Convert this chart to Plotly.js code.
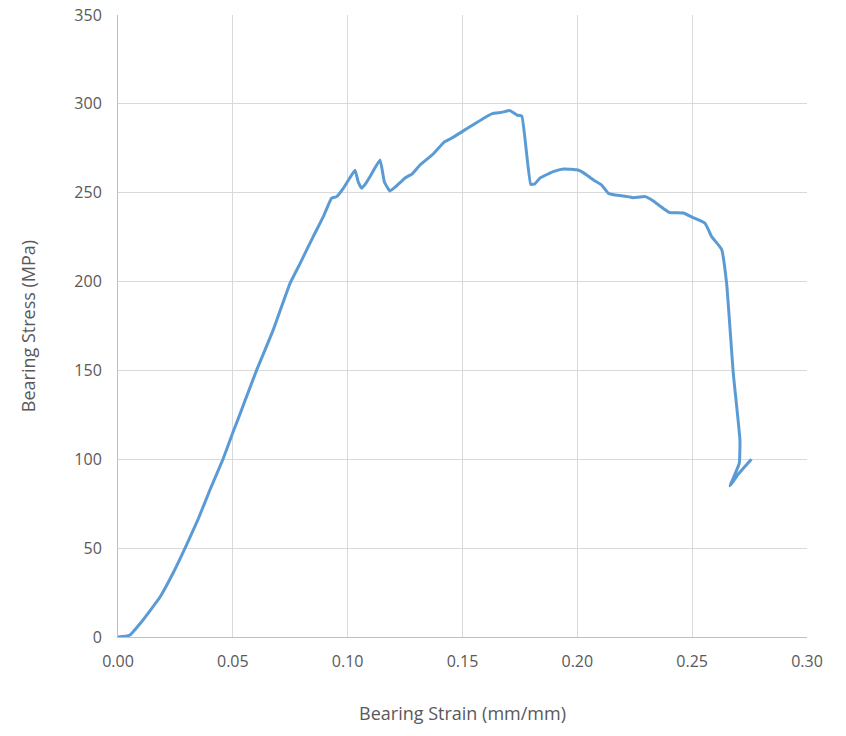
<!DOCTYPE html>
<html>
<head>
<meta charset="utf-8">
<script src="https://cdn.plot.ly/plotly-3.0.1.min.js"></script>
<style>html,body{margin:0;padding:0;background:#fff;}#chart{width:846px;height:736px;}</style>
</head>
<body>
<div id="chart"></div>
<script>
var strain = [0.000, 0.005, 0.0109, 0.0183, 0.0240, 0.0292, 0.0348, 0.0401, 0.0457, 0.0501, 0.0524, 0.0553, 0.0604, 0.0676, 0.0749, 0.0792, 0.0850, 0.0894, 0.0930, 0.0952, 0.0981, 0.1003, 0.1032, 0.1046, 0.1061, 0.1075, 0.1097, 0.1141, 0.1160, 0.1184, 0.1210, 0.1250, 0.1280, 0.1315, 0.1370, 0.1420, 0.1450, 0.1500, 0.1550, 0.1600, 0.1630, 0.1670, 0.1707, 0.1737, 0.1758, 0.1797, 0.1815, 0.1837, 0.1895, 0.1939, 0.2003, 0.2026, 0.2070, 0.2106, 0.2135, 0.2164, 0.2221, 0.2243, 0.2295, 0.2323, 0.2373, 0.2403, 0.2461, 0.2504, 0.2556, 0.2585, 0.2628, 0.2650, 0.2679, 0.2708, 0.2705, 0.2665, 0.2700, 0.2758];
var stress = [0.0, 1.0, 9.6, 22.5, 36.0, 50.0, 66.0, 83.0, 100.0, 115.4, 123.0, 133.0, 150.3, 172.8, 199.0, 210.0, 225.3, 236.5, 246.9, 247.8, 252.5, 257.0, 262.6, 256.0, 252.5, 254.5, 259.0, 268.4, 256.0, 251.0, 253.5, 258.3, 260.5, 265.6, 271.5, 278.5, 280.5, 284.5, 288.5, 292.5, 294.5, 295.2, 296.2, 293.7, 293.2, 254.7, 255.0, 258.2, 261.9, 263.4, 262.8, 261.3, 257.2, 254.3, 249.7, 248.7, 247.8, 247.2, 247.8, 246.0, 241.3, 238.8, 238.6, 236.0, 232.8, 225.3, 218.2, 199.0, 148.4, 110.9, 97.7, 85.0, 91.5, 100.0];
var xTicks = [0, 0.05, 0.10, 0.15, 0.20, 0.25, 0.30];
var yTicks = [0, 50, 100, 150, 200, 250, 300, 350];

var trace = {
  x: strain, y: stress, type: 'scatter', mode: 'lines',
  line: {color: '#5B9BD5', width: 3, shape: 'spline', smoothing: 0.35},
  hoverinfo: 'x+y'
};
var fontFam = '"Open Sans", "Liberation Sans", sans-serif';
var layout = {
  width: 846, height: 736,
  margin: {l: 118, r: 39, t: 15, b: 99},
  paper_bgcolor: '#ffffff', plot_bgcolor: '#ffffff',
  showlegend: false,
  font: {family: fontFam, color: '#595959', size: 16},
  xaxis: {
    range: [0, 0.30], tickvals: xTicks, ticktext: xTicks.map(function(v){return v.toFixed(2);}),
    showgrid: true, gridcolor: '#D9D9D9', gridwidth: 1,
    zeroline: false, showline: true, linecolor: '#BFBFBF', linewidth: 1,
    ticks: '', ticklabelstandoff: 10, tickfont: {size: 16, color: '#595959'},
    title: {text: 'Bearing Strain (mm/mm)', font: {size: 18, color: '#595959'}, standoff: 36}
  },
  yaxis: {
    range: [0, 350], tickvals: yTicks,
    showgrid: true, gridcolor: '#D9D9D9', gridwidth: 1,
    zeroline: false, showline: true, linecolor: '#BFBFBF', linewidth: 1,
    ticks: '', ticklabelstandoff: 12, tickfont: {size: 16, color: '#595959'},
    title: {text: 'Bearing Stress (MPa)', font: {size: 18, color: '#595959'}, standoff: 34}
  }
};
Plotly.newPlot('chart', [trace], layout, {displayModeBar: false, staticPlot: true});
</script>
</body>
</html>
